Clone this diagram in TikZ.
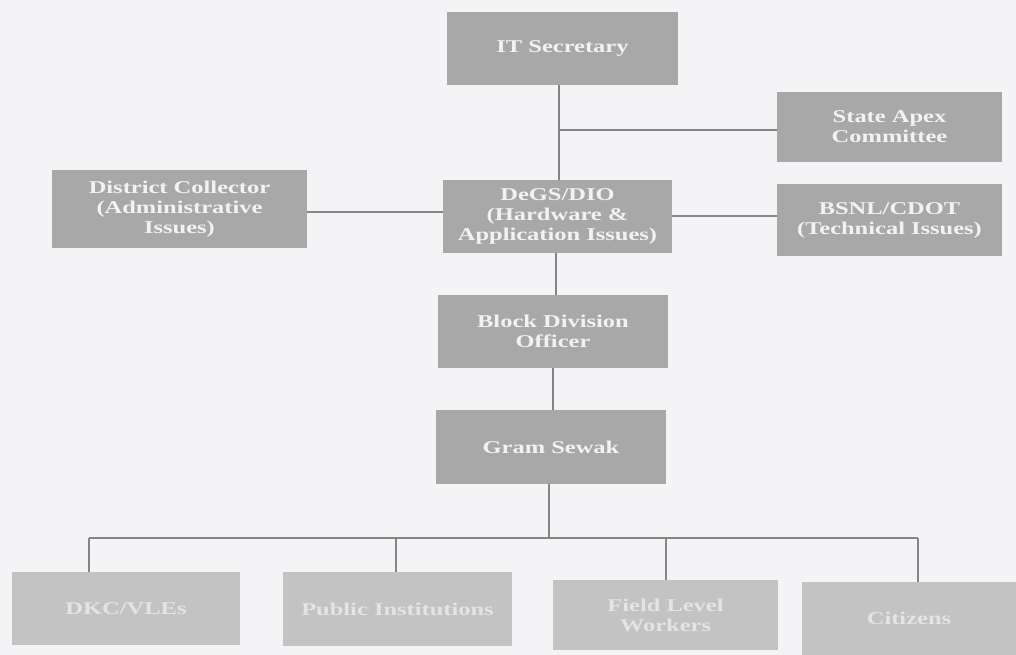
\documentclass[tikz,border=0pt]{standalone}
\usepackage{fontspec}
\setmainfont{Liberation Serif}[FakeStretch=1.36]
\definecolor{bg}{HTML}{F4F4F6}
\definecolor{boxfill}{HTML}{A8A8A8}
\definecolor{lowfill}{HTML}{C3C3C3}
\definecolor{boxtext}{HTML}{F2F2F2}
\definecolor{lowtext}{HTML}{E4E4E4}
\definecolor{linecol}{HTML}{858585}
\tikzset{
  upbox/.style={rectangle, fill=boxfill, text=boxtext, align=center, inner sep=0pt,
    font=\fontsize{18}{20}\selectfont\bfseries},
  lowbox/.style={rectangle, fill=lowfill, text=lowtext, align=center, inner sep=0pt,
    font=\fontsize{18}{20}\selectfont\bfseries},
  conn/.style={draw=linecol, line width=1.5pt},
}
\begin{document}
\begin{tikzpicture}[x=1pt,y=-1pt]
\useasboundingbox (0,0) rectangle (1016,655);
\fill[bg] (0,0) rectangle (1016,655);

\node[upbox, minimum width=231, minimum height=73] (it) at (562.5,48.5) {IT Secretary};
\node[upbox, minimum width=225, minimum height=70] (sac) at (889.5,127) {State Apex\\Committee};
\node[upbox, minimum width=255, minimum height=78] (dc) at (179.5,209) {District Collector\\(Administrative\\Issues)};
\node[upbox, minimum width=229, minimum height=73] (degs) at (557.5,216.5) {DeGS/DIO\\(Hardware \&\\Application Issues)};
\node[upbox, minimum width=225, minimum height=72] (bsnl) at (889.5,220) {BSNL/CDOT\\(Technical Issues)};
\node[upbox, minimum width=230, minimum height=73] (bdo) at (553,331.5) {Block Division\\Officer};
\node[upbox, minimum width=230, minimum height=74] (gs) at (551,447) {Gram Sewak};

\node[lowbox, minimum width=228, minimum height=73] (dkc) at (126,608.5) {DKC/VLEs};
\node[lowbox, minimum width=229, minimum height=74] (pi) at (397.5,609) {Public Institutions};
\node[lowbox, minimum width=225, minimum height=70] (flw) at (665.5,615) {Field Level\\Workers};
\node[lowbox, minimum width=214, minimum height=73] (cit) at (909,618.5) {Citizens};

\coordinate (xa) at (559,0);
\coordinate (ja) at (559,130);
\coordinate (xb) at (556,0);
\coordinate (xc) at (553,0);
\coordinate (xd) at (549,0);
\coordinate (bus) at (0,538);

\draw[conn] (it.south -| xa) -- (degs.north -| xa);
\draw[conn] (ja) -- (ja -| sac.west);
\draw[conn] (dc.east |- 0,212) -- (degs.west |- 0,212);
\draw[conn] (degs.east |- 0,216) -- (bsnl.west |- 0,216);
\draw[conn] (degs.south -| xb) -- (bdo.north -| xb);
\draw[conn] (bdo.south -| xc) -- (gs.north -| xc);
\draw[conn] (gs.south -| xd) -- (bus -| xd);
\draw[conn] (bus -| 89,0) -- (bus -| 918,0);
\draw[conn] (bus -| 89,0) -- (dkc.north -| 89,0);
\draw[conn] (bus -| 396,0) -- (pi.north -| 396,0);
\draw[conn] (bus -| 666,0) -- (flw.north -| 666,0);
\draw[conn] (bus -| 918,0) -- (cit.north -| 918,0);
\end{tikzpicture}
\end{document}
